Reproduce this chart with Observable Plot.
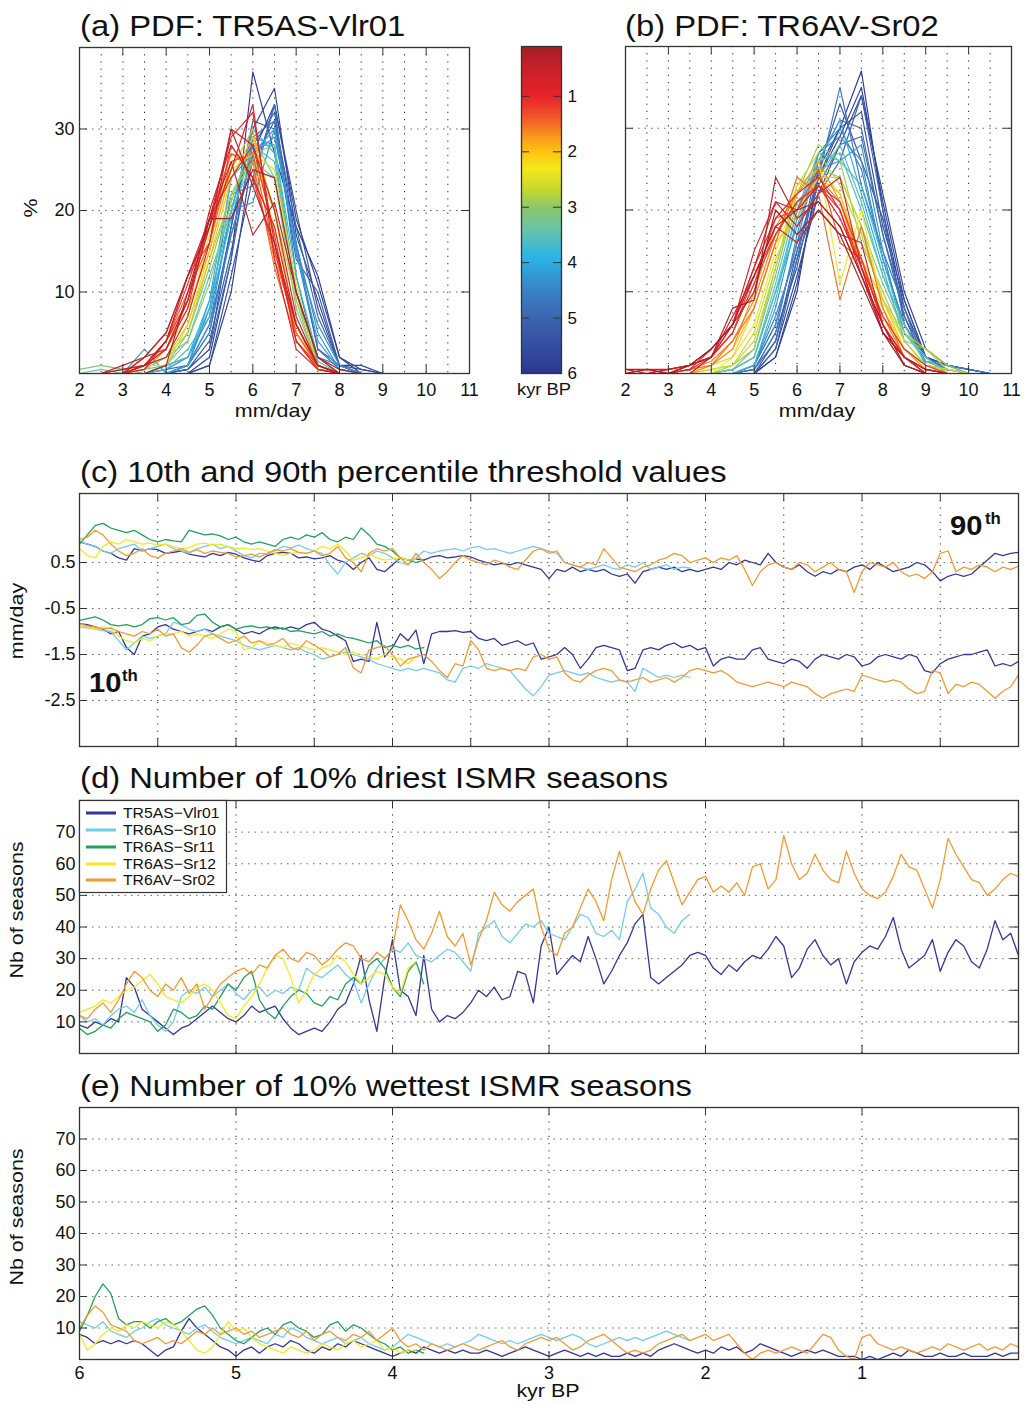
<!DOCTYPE html>
<html><head><meta charset="utf-8">
<script src="https://cdn.jsdelivr.net/npm/d3@7"></script>
<script src="https://cdn.jsdelivr.net/npm/@observablehq/plot@0.6"></script>
<style>
body{margin:0;background:#fff;}
#page{position:relative;width:1027px;height:1405px;overflow:hidden;background:#fff;}
</style></head><body><div id="page"></div>
<script>
// ---------------- DATA ----------------
const pdfBins = [2,2.5,3,3.5,4,4.5,5,5.5,6,6.5,7,7.5,8,8.5,9,9.5,10,10.5,11];
const pdfXTicks = [2,3,4,5,6,7,8,9,10,11];
const pdfYTicks = [10,20,30];
const pdfAgesA = [5.9,5.7,5.5,5.3,5.1,4.9,4.7,4.5,4.3,4.1,3.9,3.7,3.4,3.1,2.8,2.5,2.2,1.9,1.6,1.4,1.2,1.0,0.8,0.6,0.4,0.2,
                  5.8,5.0,4.4,3.8,3.0,2.0,1.5,1.1,0.7,0.3];
const pdfCurvesA = [
 [0,0,0,0,0,0,2,14,37,27,18,12,2,0,0,0,0,0,0],
 [0,0,0,0,0,0.5,3,18,30,35,17,9,1,1,0,0,0,0,0],
 [0,0,0,0,0,0,1,12,24,33,20,8,1,0.5,0,0,0,0,0],
 [0,0,0,0,0,0.5,4,15,28,32,16,3,1,0,0,0,0,0,0],
 [0,0,0,0,0,1,5,18,31,30,14,10,1,0,0,0,0,0,0],
 [0,0,0,0,0.5,1,6,17,26,31,15,3,0.5,0,0,0,0,0,0],
 [0,0,0,0,0,1,8,22,23,33,12,1,0,0,0,0,0,0,0],
 [0,0,0,0,0.5,2,7,20,29,28,10,2,1,0,0,0,0,0,0],
 [0,0,0,0,0,1,6,20,21,30,15,6,1,0,0,0,0,0,0],
 [0,0,0,3,0,1,9,24,27,30,15,4,0.5,0,0,0,0,0,0],
 [0,0,0,0,1,2,9,20,30,27,10,1,0,0,0,0,0,0,0],
 [0,0,0,0,0.5,3,7,24,28,26,10,1.5,0,0,0,0,0,0,0],
 [0,0.5,0,0.5,2,4,12,20,26,24,10,1,0,0,0,0,0,0,0],
 [0.5,1,0.5,0,1,5,13,22,27,28,9,0.5,0,0,0,0,0,0,0],
 [0,0,0,1,2,5,14,22,26,20,9,2,0,0,0,0,0,0,0],
 [0,0,0,1,1,6,15,25,27,25,11,0.5,0,0,0,0,0,0,0],
 [0,0,0,2,3,7,17,26,27,18,6,0.5,0,0,0,0,0,0,0],
 [0,0,0,1,4,8,15,25,30,16,5,1,0,0,0,0,0,0,0],
 [0,0,0,0.5,3,9,19,27,25,14,6,0.5,0,0,0,0,0,0,0],
 [0,0,0.5,1,4,10,16,26,27,15,5,1,0,0,0,0,0,0,0],
 [0,0,0,2,5,12,16,28,24,15,6,1,0,0,0,0,0,0,0],
 [0,0,0,1,3,8,19,29,32,16,4,0.5,0,0,0,0,0,0,0],
 [0,0,0,0.5,4,9,18,25,33,14,3,0.5,0,0,0,0,0,0,0],
 [0,0,0,1,2,7,16,30,28,20,7,1,0,0,0,0,0,0,0],
 [0,0,1,2,5,12,19,26,17,21,10,2,0,0,0,0,0,0,0],
 [0,0,0,0,1,10,19,19,25,24,10,2,0.5,0,0,0,0,0,0],
 [0,0,0,0,0,0,1,10,27,33,19,11,2,0.5,0,0,0,0,0],
 [0,0,0,0,0,0.5,3,14,29,31,18,7,1,0,0,0,0,0,0],
 [0,0,0,0,0,1,5,17,27,29,16,5,0.5,0,0,0,0,0,0],
 [0,0,0,0,1,2,8,19,28,28,12,2,0,0,0,0,0,0,0],
 [0,0,0,0.5,1,4,11,21,29,24,8,1,0,0,0,0,0,0,0],
 [0,0,0,1,2,6,14,24,29,20,5,0.5,0,0,0,0,0,0,0],
 [0,0,0,1,3,9,18,27,26,13,4,0.5,0,0,0,0,0,0,0],
 [0,0,0,1,4,11,19,24,28,17,4,1,0,0,0,0,0,0,0],
 [0,0,0,2,3,9,20,28,24,18,6,1,0,0,0,0,0,0,0],
 [0,0,0.5,1,4,12,18,30,23,16,6,1,0,0,0,0,0,0,0]
];
const pdfAgesB = [5.9,5.7,5.5,5.3,5.1,4.9,4.7,4.5,4.3,4.0,3.8,3.5,3.2,2.9,2.6,2.3,2.0,1.7,1.5,1.3,1.1,0.9,0.7,0.5,0.3,0.1,
                  5.8,5.0,4.4,3.6,2.7,2.1,1.6,1.2,0.8,0.2];
const pdfCurvesB = [
 [0,0,0,0,0,0,0,2,10,25,30,37,20,8,2,1,0.5,0,0],
 [0,0,0,0,0,0,0,3,12,22,28,34,22,10,3,1,0,0,0],
 [0,0,0,0,0,0,0,4,15,24,30,32,18,9,2,1,0.5,0,0],
 [0,0,0,0,0,0,0.5,5,13,25,33,26,19,7,1,0.5,0,0,0],
 [0,0,0,0,0,0,0,3,14,22,26,34,20,6,2,0.5,0,0,0],
 [0,0,0,0,0,0,1,6,16,23,28,29,17,8,1,0,0,0,0],
 [0,0,0,0,0,0,1,7,15,24,35,23,15,8,1,0,0,0,0],
 [0,0,0,0,0,0,0.5,5,17,27,30,25,14,6,1.5,1,0.5,0,0],
 [0,0,0,0,0,0,1,8,19,25,26,28,15,5,2,0,0,0,0],
 [0,0,0,0,0,0.5,2,10,18,26,31,22,13,4,1,0,0,0,0],
 [0,0,0,0,0,0,1,9,20,27,26,23,14,5,2,0,0,0,0],
 [0,0,0,0,0,0.5,2,11,21,24,28,21,12,6,1,0,0,0,0],
 [0,0,0,0,0,0.5,3,12,22,25,24,18,11,5,2,0,0,0,0],
 [0,0,0,0,0,1,3,13,22,28,26,16,10,4,3,1,0,0,0],
 [0,0,0,0,0.5,1,5,14,20,24,24,18,9,4,1,0.5,0,0,0],
 [0,0,0,0,0,2,6,15,22,26,11,20,8,3,1,0,0,0,0],
 [0,0,0,0,1,3,8,16,19,24,22,14,9,3,1,0,0,0,0],
 [0,0,0,0,1,3,10,18,22,26,21,13,7,3,0.5,0,0,0,0],
 [0,0,0,0.5,1,4,8,16,24,22,9,18,8,2,0.5,0,0,0,0],
 [0,0.5,0,1,2,5,11,19,20,25,16,14,6,2,0,0,0,0,0],
 [0,0,0,0.5,2,5,12,17,21,23,20,13,7,3,1,0,0,0,0],
 [0,0.5,0,0.5,3,6,13,19,22,24,20,12,6,2,0.5,0,0,0,0],
 [0,0,0.5,1,2,6,15,21,18,22,24,13,5,2,0,0,0,0,0],
 [0,0.5,0.5,1,2,7,12,18,16,20,17,16,6,1,0,0,0,0,0],
 [0,0,0,0,2,8,9,24,19,21,18,12,5,2,0.5,0,0,0,0],
 [0.5,0,0,1,3,6,10,20,17,20,17,11,5,1,0,0,0,0,0],
 [0,0,0,0,0,0,0,2,11,24,29,35,21,9,2,1,0.5,0,0],
 [0,0,0,0,0,0,0.5,4,14,26,31,30,17,7,2,0.5,0,0,0],
 [0,0,0,0,0,0,1,6,16,27,29,26,14,6,1.5,0.5,0,0,0],
 [0,0,0,0,0,0.5,2,10,20,26,27,20,12,5,1.5,0.5,0,0,0],
 [0,0,0,0,0.5,1,4,13,23,27,23,17,9,5,3,0.5,0,0,0],
 [0,0,0,0,1,2,8,16,23,25,22,13,8,3,1,0,0,0,0],
 [0,0,0,0.5,1.5,4,9,17,22,24,21,14,7,2,0.5,0,0,0,0],
 [0,0,0,1,2,5,11,17,21,23,21,14,6,2,0.5,0,0,0,0],
 [0,0,0.5,1,2,6,13,21,20,23,19,13,5,2,0,0,0,0,0],
 [0.5,0.5,0,1,3,6,12,18,20,21,18,12,6,1,0,0,0,0,0]
];
// colour bar (kyr BP) stops
const cbStops  = [0,0.5,1.0,1.4,1.7,2.0,2.3,2.7,3.0,3.4,3.9,4.3,4.7,5.2,5.7,6];
const cbColors = ["#9b1f26","#c8202a","#e8222a","#f15a29","#f7941d","#fdc311","#f2ea1c","#c2d72f","#8cc66b","#67c3a8","#2bb4e8","#3592d0","#3b76bb","#3a5aa6","#30459a","#2b3590"];
const cbTicks = [1,2,3,4,5,6];

// time series, sampled every 0.05 kyr starting at 6 kyr BP
const models = ["TR5AS\u2212Vlr01","TR6AS\u2212Sr10","TR6AS\u2212Sr11","TR6AS\u2212Sr12","TR6AV\u2212Sr02"];
const modelColors = ["#35369b","#74cbf2","#1fa35a","#f5ea1e","#f59a31"];

const c90_Vlr01 = [0.95,0.9,0.85,0.75,0.7,0.6,0.55,0.8,0.75,0.8, 0.78,0.7,0.72,0.75,0.68,0.65,0.62,0.7,0.65,0.72, 0.68,0.6,0.55,0.52,0.65,0.7,0.72,0.7,0.6,0.62, 0.58,0.6,0.65,0.55,0.5,0.35,0.5,0.6,0.35,0.3, 0.45,0.6,0.55,0.58,0.55,0.62,0.65,0.6,0.62,0.65, 0.62,0.55,0.5,0.45,0.48,0.45,0.5,0.45,0.4,0.35, 0.15,0.35,0.3,0.4,0.3,0.35,0.3,0.35,0.25,0.2, 0.25,0.05,0.3,0.35,0.4,0.35,0.4,0.3,0.35,0.3, 0.35,0.4,0.35,0.5,0.45,0.55,0.5,0.45,0.7,0.5, 0.4,0.35,0.45,0.3,0.2,0.3,0.25,0.35,0.3,0.4, 0.45,0.35,0.5,0.4,0.3,0.35,0.4,0.5,0.45,0.3, 0.1,0.2,0.25,0.2,0.25,0.4,0.55,0.7,0.65,0.7, 0.72];
const c90_Sr10 = [0.95,0.9,0.85,0.75,0.7,0.8,0.85,0.9,0.75,0.8, 0.85,0.9,0.8,0.75,0.7,0.8,0.85,0.9,0.8,0.85, 0.75,0.65,0.6,0.7,0.68,0.75,0.85,0.82,0.88,0.8, 0.75,0.7,0.45,0.25,0.5,0.6,0.7,0.65,0.75,0.7, 0.6,0.5,0.45,0.6,0.75,0.7,0.75,0.78,0.8,0.75, 0.82,0.85,0.78,0.8,0.75,0.7,0.75,0.8,0.85,0.8, 0.75,0.7,0.5,0.45,0.4,0.35,0.4,0.45,0.38,0.35, 0.45,0.4,0.5,0.35,0.4,0.45,0.35,0.4,0.38];
const c90_Sr11 = [0.9,1.1,1.3,1.35,1.25,1.2,1.15,1.2,1.1,1.0, 0.95,1.0,0.97,0.95,1.2,1.15,1.1,1.12,1.08,1.0, 1.05,0.95,0.9,0.95,0.9,0.85,1.0,1.05,1.0,1.1, 1.05,1.15,1.0,0.95,1.05,1.0,1.25,1.1,0.9,0.85, 0.75,0.6,0.55,0.5,0.55];
const c90_Sr12 = [0.8,0.65,0.6,0.85,0.95,0.9,1.0,0.95,0.9,0.92, 0.88,0.9,0.85,0.8,0.82,0.9,0.92,0.88,0.9,0.85, 0.8,0.82,0.78,0.8,0.75,0.7,0.65,0.7,0.72,0.7, 0.75,0.85,0.8,0.9,0.75,0.55,0.6,0.7,0.6,0.55, 0.58,0.6,0.55,0.58];
const c90_Sr02 = [1.0,1.05,1.2,1.1,0.9,0.75,0.65,0.7,0.8,0.65, 0.6,0.7,0.75,0.8,0.72,0.78,0.7,0.75,0.72,0.7, 0.62,0.65,0.68,0.62,0.7,0.78,0.75,0.8,0.72,0.7, 0.75,0.65,0.7,0.85,0.6,0.5,0.3,0.7,0.8,0.75, 0.8,0.6,0.45,0.7,0.5,0.35,0.15,0.3,0.5,0.65, 0.55,0.5,0.45,0.55,0.5,0.4,0.35,0.55,0.75,0.8, 0.7,0.75,0.5,0.45,0.4,0.5,0.45,0.8,0.6,0.4, 0.35,0.3,0.4,0.45,0.55,0.6,0.7,0.65,0.5,0.55, 0.6,0.5,0.6,0.55,0.65,0.35,0.0,0.3,0.45,0.5, 0.4,0.35,0.5,0.45,0.3,0.4,0.5,0.35,0.3,-0.15, 0.3,0.5,0.45,0.4,0.5,0.3,0.2,0.25,0.15,0.3, 0.7,0.75,0.3,0.4,0.35,0.45,0.4,0.3,0.4,0.35, 0.42];

const c10_Vlr01 = [-0.83,-0.85,-0.9,-0.95,-1.05,-1.0,-1.35,-1.5,-1.1,-1.05, -0.9,-0.85,-0.95,-1.0,-1.05,-1.0,-0.95,-1.0,-0.9,-0.85, -0.95,-1.05,-1.0,-1.05,-0.95,-0.9,-0.95,-0.9,-0.95,-0.85, -0.8,-0.95,-1.0,-1.1,-1.2,-1.65,-1.6,-1.65,-0.8,-1.55, -1.35,-1.05,-1.2,-0.97,-1.7,-1.05,-1.0,-1.0,-0.98,-1.02, -1.0,-1.15,-1.2,-1.15,-1.3,-1.25,-1.2,-1.3,-1.25,-1.6, -1.55,-1.5,-1.35,-1.5,-1.8,-1.6,-1.35,-1.3,-1.35,-1.4, -1.85,-1.8,-1.4,-1.35,-1.4,-1.3,-1.25,-1.35,-1.3,-1.4, -1.35,-1.75,-1.6,-1.55,-1.6,-1.6,-1.4,-1.35,-1.6,-1.65, -1.7,-1.6,-1.65,-1.8,-1.6,-1.5,-1.55,-1.6,-1.5,-1.55, -1.75,-1.7,-1.55,-1.5,-1.55,-1.6,-1.5,-1.55,-1.85,-1.9, -1.7,-1.6,-1.55,-1.5,-1.5,-1.45,-1.4,-1.75,-1.7,-1.75, -1.65];
const c10_Sr10 = [-0.9,-0.92,-0.95,-0.98,-1.0,-1.2,-1.4,-1.25,-1.1,-1.15, -1.1,-1.05,-0.8,-0.85,-0.95,-1.0,-0.95,-1.05,-1.1,-1.15, -1.2,-1.3,-1.35,-1.4,-1.35,-1.3,-1.35,-1.4,-1.35,-1.45, -1.5,-1.6,-1.55,-1.5,-1.45,-1.5,-1.55,-1.6,-1.7,-1.75, -1.8,-1.85,-1.8,-1.85,-1.8,-1.85,-1.9,-2.05,-2.1,-1.8, -1.75,-1.8,-1.7,-1.75,-1.8,-1.85,-2.05,-2.25,-2.4,-2.2, -1.95,-1.9,-1.85,-1.9,-1.95,-1.9,-2.0,-2.05,-2.1,-2.05, -2.1,-2.3,-1.8,-1.9,-2.0,-1.95,-2.0,-1.95,-2.0];
const c10_Sr11 = [-0.76,-0.72,-0.68,-0.75,-0.85,-0.88,-0.85,-0.9,-0.85,-0.72, -0.7,-0.75,-0.7,-0.85,-0.82,-0.65,-0.62,-0.8,-0.9,-0.85, -0.95,-0.9,-0.88,-0.92,-0.9,-0.95,-0.92,-1.0,-0.98,-1.02, -1.05,-1.0,-1.1,-1.05,-1.12,-1.15,-1.2,-1.25,-1.2,-1.35, -1.3,-1.35,-1.3,-1.38,-1.35];
const c10_Sr12 = [-0.85,-0.9,-0.95,-0.9,-0.95,-1.1,-1.2,-1.25,-1.15,-1.2, -1.1,-1.05,-1.05,-1.0,-1.1,-1.05,-1.1,-1.15,-1.05,-0.95, -1.0,-1.4,-1.35,-1.2,-1.25,-1.3,-1.35,-1.25,-1.3,-1.35, -1.4,-1.35,-1.4,-1.45,-1.5,-1.45,-1.5,-1.55,-1.6,-1.5, -1.55,-1.6,-1.7,-1.55];
const c10_Sr02 = [-0.83,-0.88,-0.9,-0.95,-0.92,-1.0,-1.05,-1.1,-1.0,-1.05, -0.95,-1.1,-1.05,-1.35,-1.45,-1.3,-1.1,-1.05,-1.15,-1.25, -1.2,-1.1,-1.25,-1.2,-1.3,-1.25,-1.15,-1.35,-1.4,-1.2, -1.3,-1.4,-1.55,-1.5,-1.35,-1.8,-1.9,-1.4,-1.35,-1.3, -1.5,-1.75,-1.6,-1.55,-1.5,-1.65,-1.85,-2.0,-1.7,-1.75, -1.2,-1.4,-1.8,-1.85,-1.8,-1.85,-1.8,-1.85,-1.55,-1.5, -1.6,-1.55,-1.9,-2.05,-2.1,-1.95,-1.85,-1.8,-1.85,-2.05, -2.1,-2.05,-2.0,-2.1,-2.05,-2.0,-2.1,-2.0,-1.85,-1.8, -1.85,-1.9,-1.85,-1.95,-2.1,-2.15,-2.2,-2.15,-2.1,-2.15, -2.2,-2.1,-2.15,-2.2,-2.35,-2.45,-2.35,-2.3,-2.25,-2.3, -1.95,-2.0,-2.05,-2.1,-2.05,-2.1,-2.25,-2.35,-2.3,-1.85, -1.9,-2.35,-2.15,-2.2,-2.1,-2.15,-2.3,-2.45,-2.3,-2.2, -1.95];

const dry_Vlr01 = [9,8,10,9,11,10,24,21,14,12, 10,8,6,8,9,11,13,15,13,11, 10,12,15,13,14,15,11,8,6,7, 8,7,10,14,16,22,31,17,7,24, 36,20,18,12,31,14,10,12,11,13, 16,20,18,21,17,18,26,25,16,34, 40,25,28,31,29,37,30,22,26,31, 35,41,44,24,22,24,26,28,31,32, 31,27,25,28,26,29,31,30,33,37, 34,24,27,33,36,31,28,30,22,29, 32,34,33,37,43,33,27,29,31,36, 26,32,36,34,29,27,33,42,36,38, 31];
const dry_Sr10 = [12,10,11,9,12,14,15,13,17,12, 9,7,10,18,20,19,21,18,20,22, 19,17,20,21,18,20,19,21,20,27, 25,24,26,28,25,23,16,22,27,30, 33,32,35,31,30,29,31,33,32,29, 26,38,40,42,37,35,38,41,40,42, 38,37,36,40,44,43,38,37,39,36, 48,52,57,46,44,40,38,42,44];
const dry_Sr11 = [8,6,7,9,8,11,13,12,11,10, 7,9,14,13,11,12,15,14,18,22, 20,24,26,17,13,11,15,18,20,19, 16,15,18,17,22,24,22,28,30,27, 21,18,26,29,22];
const dry_Sr12 = [13,14,15,17,16,18,20,21,23,25, 22,18,17,16,18,21,22,20,16,12, 11,15,18,22,27,31,30,24,16,20, 25,27,28,31,29,25,22,24,26,25, 21,19,27,29];
const dry_Sr02 = [12,11,14,16,13,17,22,26,24,20, 18,22,20,24,19,22,14,18,22,24, 26,27,25,28,27,31,33,30,29,32, 31,28,30,33,35,34,30,29,32,30, 33,47,42,36,33,38,45,37,34,38, 28,36,42,51,47,45,48,50,52,40, 33,31,38,40,46,52,48,42,55,64, 56,48,44,52,58,61,54,47,51,55, 56,51,53,51,54,50,59,60,52,55, 69,60,55,57,63,58,55,54,64,57, 52,50,49,51,56,63,59,58,52,46, 55,68,63,59,55,54,50,52,55,57, 56];

const wet_Vlr01 = [8,7,5,6,5,6,5,6,5,3, 1,3,4,9,13,10,8,6,4,3, 1,3,4,2,4,5,4,6,5,3, 2,4,3,5,4,6,5,4,3,2, 1,2,3,2,4,3,2,3,2,3, 2,2,3,2,1,2,3,4,3,2, 1,2,3,2,1,2,1,2,1,1, 2,1,2,1,3,4,5,4,3,2, 3,2,4,3,4,2,3,5,4,3, 2,1,2,3,2,3,2,1,1,1, 0,1,0,1,2,1,3,2,1,1, 2,1,1,2,1,1,1,2,1,2, 2];
const wet_Sr10 = [12,11,10,12,9,8,7,9,10,12, 13,11,10,9,8,10,11,9,7,6, 5,6,7,6,5,8,7,10,9,7, 6,5,6,7,5,6,7,5,4,3, 4,6,8,7,6,5,4,5,4,5, 6,8,7,6,5,6,5,6,7,8, 7,6,7,8,7,5,4,5,6,7, 6,7,6,7,8,9,8,7,6];
const wet_Sr11 = [9,14,20,24,21,13,11,12,12,10, 12,13,11,12,14,16,17,14,10,8, 6,5,7,9,10,8,11,12,10,9, 7,8,11,12,9,11,10,8,6,5, 3,4,2,3,2];
const wet_Sr12 = [8,3,5,8,10,9,11,10,12,11, 10,12,11,9,6,3,2,4,8,12, 9,10,7,5,4,3,2,4,3,2, 3,5,4,3,5,6,4,5,6,3, 4,2,3,3];
const wet_Sr02 = [10,14,17,15,11,10,9,6,5,6, 7,5,6,5,7,9,8,10,8,9, 10,8,9,7,8,9,10,8,7,9, 6,8,9,7,6,8,7,9,6,8, 10,6,4,5,3,5,4,3,4,5, 4,3,4,5,6,4,3,5,6,7, 6,7,5,3,4,6,7,8,6,4, 2,3,2,3,5,6,7,8,6,7, 8,6,7,8,5,2,0,2,3,2, 3,4,3,2,5,8,7,3,1,0, 7,8,5,4,3,4,3,2,3,4, 3,5,4,3,4,5,3,4,3,5, 4];

const cYTicks = [0.5,-0.5,-1.5,-2.5];
const cXGrid = [5.5,5,4.5,4,3.5,3,2.5,2,1.5,1,0.5];
const nYTicks = [10,20,30,40,50,60,70];
const nXGrid = [5,4,3,2,1];
const eXLabels = [6,5,4,3,2,1];
const kyrTicks = [6,5,4,3,2,1,0];

// ---------------- HELPERS ----------------
const page = document.getElementById("page");
const FONT = '"Liberation Sans", Arial, Helvetica, sans-serif';
const cmap = d3.scaleLinear().domain(cbStops).range(cbColors).interpolate(d3.interpolateRgb).clamp(true);
const STEP = 0.05;
function place(el, left, top){ el.style.position="absolute"; el.style.left=left+"px"; el.style.top=top+"px"; el.style.maxWidth="none"; page.appendChild(el); }
const TL = 8;
function inwardTicks(xt, yt, W, H, stroke="#333") {
  const m = [];
  if (xt) m.push(
    Plot.tickX(xt,{x:d=>d, insetTop:H-TL, stroke, strokeWidth:1}),
    Plot.tickX(xt,{x:d=>d, insetBottom:H-TL, stroke, strokeWidth:1}));
  if (yt) m.push(
    Plot.tickY(yt,{y:d=>d, insetRight:W-TL, stroke, strokeWidth:1}),
    Plot.tickY(yt,{y:d=>d, insetLeft:W-TL, stroke, strokeWidth:1}));
  return m;
}
const gridV = vals => Plot.ruleX(vals,{x:d=>d, stroke:"#222", strokeDasharray:"1.2,6", strokeWidth:1});
const gridH = vals => Plot.ruleY(vals,{y:d=>d, stroke:"#666", strokeDasharray:"1.5,5", strokeWidth:1});
const baseStyle = {fontSize:"18px", fontFamily:FONT, color:"#111", background:"transparent", overflow:"visible"};

// ---------------- PDF PANELS ----------------
function pdfPlot(curves, ages, {W, H, mL, mR, mT, mB, showY}) {
  const order = d3.range(curves.length).sort((a,b) => ages[b] - ages[a]); // oldest drawn first
  const rows = [];
  order.forEach(k => curves[k].forEach((v,j) => rows.push({x: pdfBins[j], v, id: k, col: cmap(ages[k])})));
  return Plot.plot({
    width: W+mL+mR, height: H+mT+mB,
    marginLeft: mL, marginRight: mR, marginTop: mT, marginBottom: mB,
    style: baseStyle,
    x: {domain:[2,11], ticks: pdfXTicks, tickSize:0, tickPadding:10, label:null, tickFormat:d=>String(d)},
    y: {domain:[0,40], ticks: pdfYTicks, tickSize:0, tickPadding:5, label:null, axis: showY ? "left" : null, tickFormat:d=>String(d)},
    color: {type:"identity"},
    marks: [
      gridV(pdfBins.filter(b => b > 2 && b < 11)),
      gridH(pdfYTicks),
      Plot.line(rows, {x:"x", y:"v", z:"id", stroke:"col", strokeWidth:1.15}),
      ...inwardTicks(pdfXTicks, pdfYTicks, W, H),
      Plot.frame({stroke:"#333", strokeWidth:1.3})
    ]
  });
}
place(pdfPlot(pdfCurvesA, pdfAgesA, {W:390, H:326, mL:79, mR:11, mT:47, mB:57, showY:true}), 0, 0);
place(pdfPlot(pdfCurvesB, pdfAgesB, {W:386, H:327, mL:25, mR:16, mT:46, mB:57, showY:false}), 600, 0);

// colour bar
const cbVals = d3.range(0.1, 6, 0.025);
place(Plot.plot({
  width: 90, height: 380, marginLeft:16, marginRight:34, marginTop:46, marginBottom:7,
  style: {...baseStyle, fontSize:"17px"},
  x: {domain:[0,1], axis:null},
  y: {domain:[0.1,6], reverse:true, axis:"right", ticks: cbTicks, tickSize:0, tickPadding:6, label:null, tickFormat:d=>String(d)},
  color: {type:"identity"},
  marks: [
    Plot.rect(cbVals, {x1:0, x2:1, y1:d=>d, y2:d=>Math.min(6, d+0.027), fill:d=>cmap(d), shapeRendering:"crispEdges"}),
    ...inwardTicks(null, cbTicks.slice(0,5), 40, 327, "#333"),
    Plot.frame({stroke:"#333", strokeWidth:1.3})
  ]
}), 505, 0);

// ---------------- TIME SERIES PANELS ----------------
function rowsOf(arr){ return arr.map((v,i) => ({age: 6 - i*STEP, v})); }
function tsPlot(seriesList, {top, H, mT, mB, yDomain, yTicks, xGrid, xTicks, xLabels}) {
  const W = 939;
  const marks = [gridV(xGrid), gridH(yTicks)];
  seriesList.forEach(s => marks.push(Plot.line(rowsOf(s.data), {x:"age", y:"v", stroke:s.color, strokeWidth:1.3, curve:"linear"})));
  marks.push(...inwardTicks(xTicks, yTicks, W, H), Plot.frame({stroke:"#333", strokeWidth:1.3}));
  const svg = Plot.plot({
    width: W+79+9, height: H+mT+mB, marginLeft:79, marginRight:9, marginTop:mT, marginBottom:mB,
    style: baseStyle,
    x: xLabels ? {domain:[6,0], ticks:xLabels, tickSize:0, tickPadding:7, label:null, tickFormat:d=>String(d)} : {domain:[6,0], axis:null},
    y: {domain:yDomain, ticks:yTicks, tickSize:0, tickPadding:4, label:null, tickFormat:d=>String(d)},
    marks
  });
  place(svg, 0, top);
}
const cSeries = [
  {data:c90_Vlr01, color:modelColors[0]}, {data:c10_Vlr01, color:modelColors[0]},
  {data:c90_Sr10, color:modelColors[1]}, {data:c10_Sr10, color:modelColors[1]},
  {data:c90_Sr11, color:modelColors[2]}, {data:c10_Sr11, color:modelColors[2]},
  {data:c90_Sr12, color:modelColors[3]}, {data:c10_Sr12, color:modelColors[3]},
  {data:c90_Sr02, color:modelColors[4]}, {data:c10_Sr02, color:modelColors[4]}
];
tsPlot(cSeries, {top:490, H:253, mT:3, mB:4, yDomain:[-3.5,2], yTicks:cYTicks, xGrid:cXGrid, xTicks:cXGrid, xLabels:null});
const dSeries = [dry_Vlr01, dry_Sr10, dry_Sr11, dry_Sr12, dry_Sr02].map((d,k)=>({data:d, color:modelColors[k]}));
tsPlot(dSeries, {top:797, H:253, mT:3, mB:4, yDomain:[0,80], yTicks:nYTicks, xGrid:nXGrid, xTicks:kyrTicks, xLabels:null});
const eSeries = [wet_Vlr01, wet_Sr10, wet_Sr11, wet_Sr12, wet_Sr02].map((d,k)=>({data:d, color:modelColors[k]}));
tsPlot(eSeries, {top:1104, H:252, mT:3, mB:35, yDomain:[0,80], yTicks:nYTicks, xGrid:nXGrid, xTicks:kyrTicks, xLabels:eXLabels});

// ---------------- TEXT OVERLAY ----------------
const ov = d3.create("svg").attr("width",1027).attr("height",1405)
  .style("position","absolute").style("left","0px").style("top","0px").style("pointer-events","none")
  .attr("font-family", FONT).attr("fill","#111");
function txt(str, x, y, {size=18, anchor="start", weight="normal", rot=0, sx=1.13}={}) {
  ov.append("text").attr("transform",`translate(${x},${y}) rotate(${rot}) scale(${sx},1)`)
    .attr("font-size", size).attr("text-anchor", anchor).attr("font-weight", weight).text(str);
}
txt("(a) PDF: TR5AS-Vlr01", 80, 36, {size:29});
txt("(b) PDF: TR6AV-Sr02", 625, 36, {size:29});
txt("(c) 10th and 90th percentile threshold values", 80, 482, {size:29});
txt("(d) Number of 10% driest ISMR seasons", 80, 788, {size:29});
txt("(e) Number of 10% wettest ISMR seasons", 80, 1096, {size:29});
txt("mm/day", 273, 417, {size:19, anchor:"middle"});
txt("mm/day", 817, 417, {size:19, anchor:"middle"});
txt("%", 37, 208, {size:19, anchor:"middle", rot:-90});
txt("kyr BP", 517, 395, {size:17, sx:1.08});
txt("mm/day", 23, 621, {size:19, anchor:"middle", rot:-90});
txt("Nb of seasons", 23, 910, {size:19, anchor:"middle", rot:-90});
txt("Nb of seasons", 23, 1217, {size:19, anchor:"middle", rot:-90});
txt("kyr BP", 548, 1397, {size:19, anchor:"middle"});
txt("90", 950, 535, {size:27, weight:"bold", sx:1.08});
txt("th", 985, 524, {size:16, weight:"bold", sx:1.05});
txt("10", 89, 692, {size:27, weight:"bold", sx:1.08});
txt("th", 122, 681, {size:16, weight:"bold", sx:1.05});
// legend for (d)
const lg = ov.append("g");
lg.append("rect").attr("x",79.5).attr("y",800.5).attr("width",147).attr("height",92).attr("fill","#fff").attr("stroke","#333").attr("stroke-width",1.2);
const lgY = [813, 830, 847, 864, 880];
models.forEach((m,k) => {
  lg.append("line").attr("x1",86).attr("x2",116).attr("y1",lgY[k]).attr("y2",lgY[k]).attr("stroke",modelColors[k]).attr("stroke-width",3);
});
models.forEach((m,k) => txt(m, 123, lgY[k]+5, {size:15, sx:1.05}));
page.appendChild(ov.node());
</script>
</body></html>
